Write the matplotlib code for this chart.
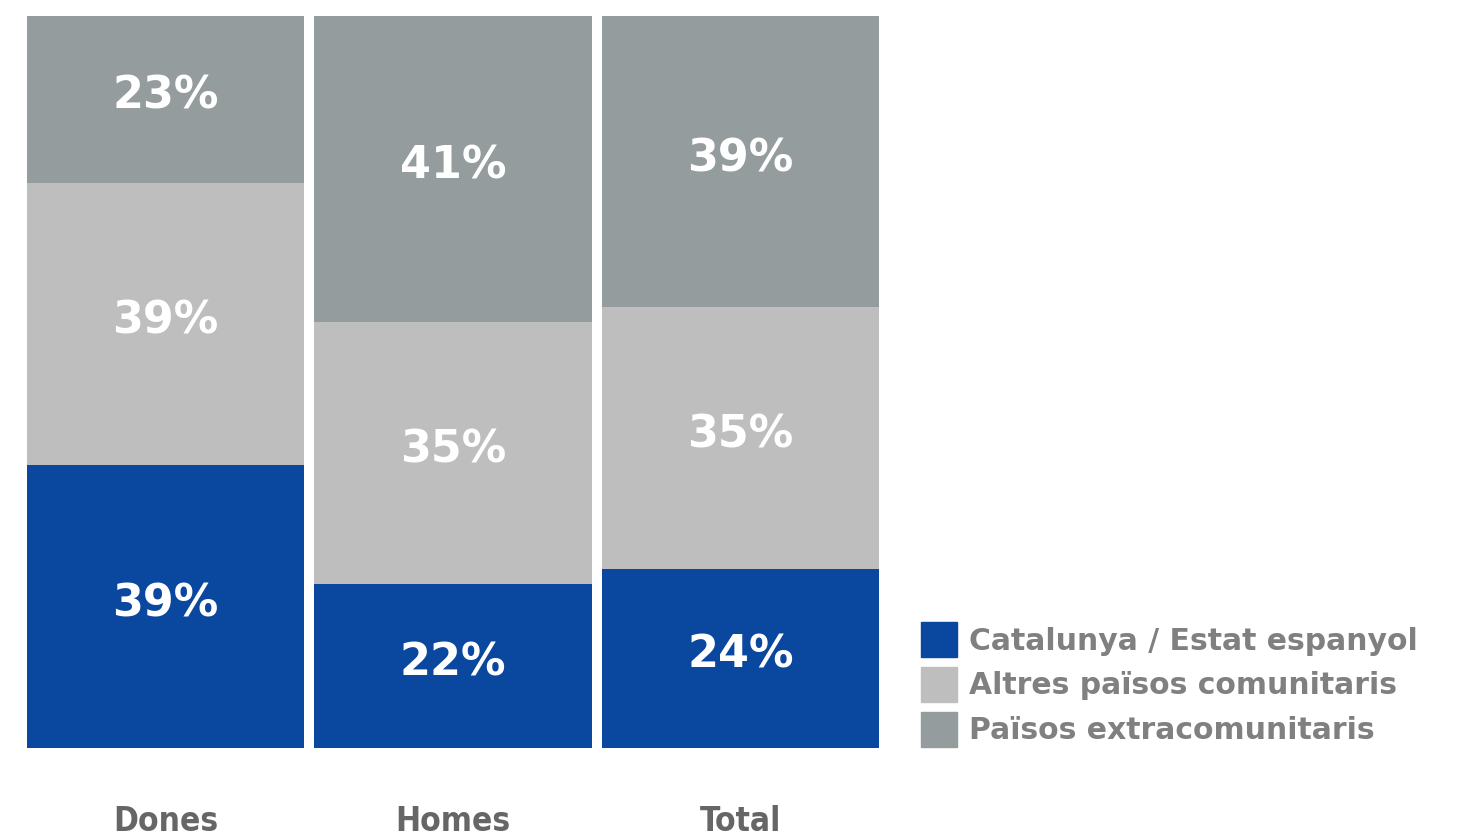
import numpy as np
import matplotlib.pyplot as plt
from matplotlib.patches import Rectangle

# dades (percentatges tal com surten a les etiquetes)
grups = ['Dones', 'Homes', 'Total']
series = ['Catalunya / Estat espanyol', 'Altres països comunitaris', 'Països extracomunitaris']
catalunya = [39, 22, 24]
comunitaris = [39, 35, 35]
extracom = [23, 41, 39]

colors = ['#0A479E', '#BDBEBD', '#949C9E']

vals = np.array([catalunya, comunitaris, extracom], dtype=float)
quota = vals / vals.sum(axis=0) * 100  # barres normalitzades al 100%

fig = plt.figure(figsize=(14.75, 8.39), dpi=100)
ax = fig.add_axes([27/1475, 91/839, 852/1475, 732/839])

x = np.arange(len(grups))
base = np.zeros(len(grups))
for k in range(len(series)):
    ax.bar(x, quota[k], bottom=base, width=0.965, color=colors[k], label=series[k])
    for i in range(len(grups)):
        ax.text(x[i], base[i] + quota[k][i]/2 + 0.4, '%d%%' % vals[k][i], ha='center', va='center',
                color='white', fontsize=32, fontweight='bold')
    base = base + quota[k]

ax.set_xlim(-0.4826, 2.4826)
ax.set_ylim(0, 100)
ax.set_yticks([])
ax.set_xticks(x)
ax.set_xticklabels(grups, fontsize=24, fontweight='bold', color='#666666', fontstretch='condensed')
ax.tick_params(axis='x', length=0, pad=41)
for s in ax.spines.values():
    s.set_visible(False)

handles = [Rectangle((0, 0), 1, 1, color=c) for c in colors]
fig.legend(handles, series, loc='upper left', bbox_to_anchor=(921/1475, 1 - 622/839),
           frameon=False, borderpad=0, borderaxespad=0,
           handlelength=1.2, handleheight=1.44, handletextpad=0.4, labelspacing=0.32,
           labelcolor='#808080', prop={'weight': 'bold', 'size': 21.5})

plt.savefig('out.png', dpi=100)
